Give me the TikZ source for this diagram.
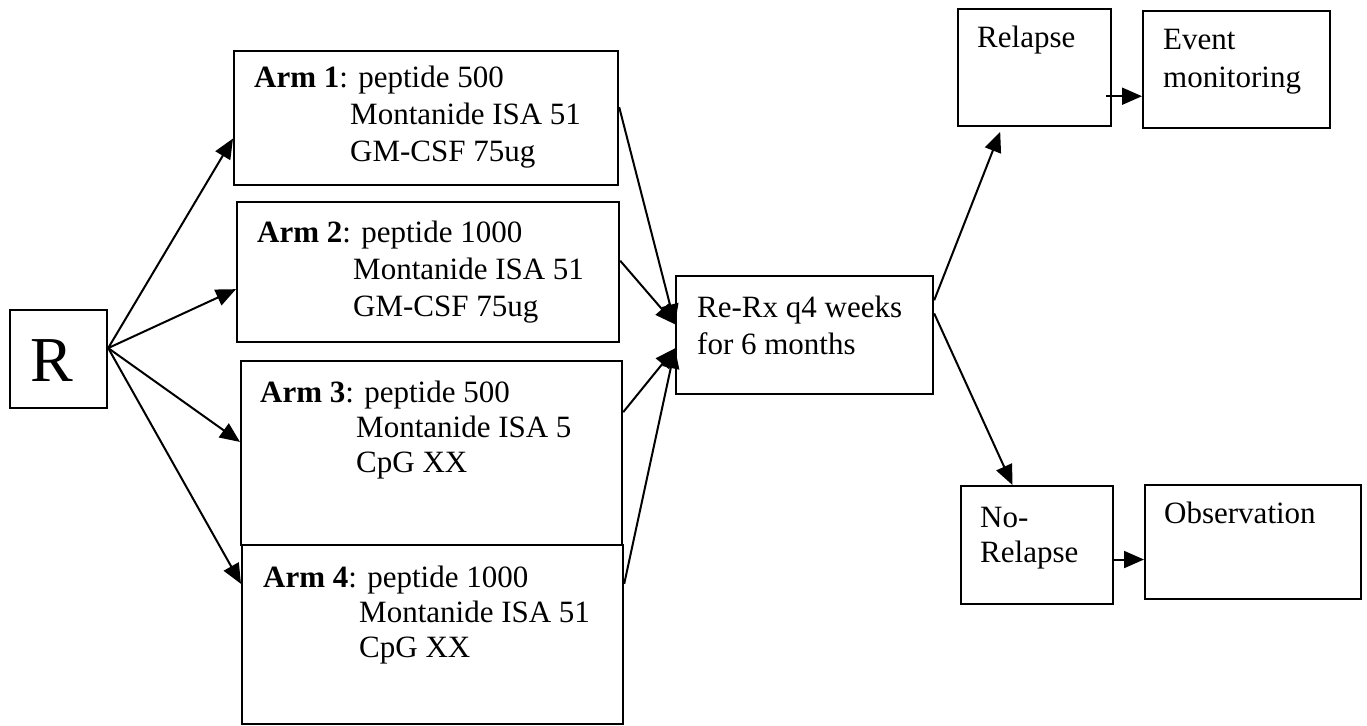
\documentclass[tikz,border=0pt]{standalone}
\usepackage{fontspec}
\setmainfont{Liberation Serif}
\usetikzlibrary{arrows.meta,calc}
\tikzset{
  box/.style={draw, line width=2.2pt, inner sep=0pt, anchor=north west},
  txt/.style={anchor=base west, inner sep=0pt, font=\fontsize{31}{37}\selectfont},
  tight/.style={font=\fontsize{31}{35}\selectfont},
  arr/.style={line width=2pt, -{Triangle[length=20pt,width=17pt]}}
}
\newcommand{\armtext}[4]{\begin{tabular}[t]{@{}l@{}}\textbf{Arm #1}: peptide #2\\\hspace*{96pt}#3\\\hspace*{96pt}#4\end{tabular}}
\begin{document}
\begin{tikzpicture}[x=1pt,y=-1pt]
\useasboundingbox (0,0) rectangle (1367,725);
\fill[white] (0,0) rectangle (1367,725);
% boxes
\node[box, minimum width=97pt, minimum height=98pt] (R) at (9,309) {};
\node[anchor=base, inner sep=0pt, font=\fontsize{64}{70}\selectfont] (Rt) at (52,381) {R};
\node[box, minimum width=384pt, minimum height=134pt] (a1) at (233,50) {};
\node[box, minimum width=382pt, minimum height=140pt] (a2) at (236,201) {};
\node[box, minimum width=381pt, minimum height=184pt] (a3) at (240,360) {};
\node[box, minimum width=381pt, minimum height=179pt] (a4) at (241,544) {};
\node[box, minimum width=257pt, minimum height=118pt] (rx) at (675,275) {};
\node[box, minimum width=153pt, minimum height=117pt] (rel) at (957,8) {};
\node[box, minimum width=187pt, minimum height=117pt] (ev) at (1142,10) {};
\node[box, minimum width=152pt, minimum height=118pt] (nr) at (960,485) {};
\node[box, minimum width=216pt, minimum height=114pt] (obs) at (1144,484) {};
% texts
\node[txt] (t1) at (254,87) {\armtext{1}{500}{Montanide ISA 51}{GM-CSF 75ug}};
\node[txt] (t2) at (257,242) {\armtext{2}{1000}{Montanide ISA 51}{GM-CSF 75ug}};
\node[txt, tight] (t3) at (260,402) {\armtext{3}{500}{Montanide ISA 5}{CpG XX}};
\node[txt, tight] (t4) at (263,587) {\armtext{4}{1000}{Montanide ISA 51}{CpG XX}};
\node[txt] (trx) at (697,317) {\begin{tabular}[t]{@{}l@{}}Re-Rx q4 weeks\\for 6 months\end{tabular}};
\node[txt] (trel) at (977,48) {Relapse};
\node[txt] (tev) at (1163,50) {\begin{tabular}[t]{@{}l@{}}Event\\monitoring\end{tabular}};
\node[txt, tight] (tnr) at (980,527) {\begin{tabular}[t]{@{}l@{}}No-\\Relapse\end{tabular}};
\node[txt] (tobs) at (1164,523) {Observation};
% connectors from R
\coordinate (r0) at ($(R.north east)!0.39!(R.south east)$);
\draw[arr] (r0) -- ($(a1.north west)!0.65!(a1.south west)$);
\draw[arr] (r0) -- ($(a2.north west)!0.62!(a2.south west)$);
\draw[arr] (r0) -- ($(a3.north west)!0.44!(a3.south west)$);
\draw[arr] (r0) -- ($(a4.north west)!0.22!(a4.south west)$);
% arms to Re-Rx
\draw[arr] ($(a1.north east)!0.42!(a1.south east)$) -- ($(rx.north west)!0.41!(rx.south west)$);
\draw[arr] ($(a2.north east)!0.42!(a2.south east)$) -- ($(rx.north west)!0.41!(rx.south west)$);
\draw[arr] ($(a3.north east)!0.28!(a3.south east)$) -- ($(rx.north west)!0.61!(rx.south west)$);
\draw[arr] ($(a4.north east)!0.22!(a4.south east)$) -- ($(rx.north west)!0.61!(rx.south west)$);
% Re-Rx to outcomes
\draw[arr, shorten >=5pt] ($(rx.north east)!0.21!(rx.south east)$) -- ($(rel.south west)!0.29!(rel.south east)$);
\draw[arr] ($(rx.north east)!0.32!(rx.south east)$) -- ($(nr.north west)!0.34!(nr.north east)$);
% outcomes to follow-up
\coordinate (e0) at ($(rel.north east)!0.74!(rel.south east)$);
\draw[arr, shorten <=-6pt] (e0) -- (e0 -| ev.west);
\coordinate (o0) at ($(nr.north east)!0.62!(nr.south east)$);
\draw[arr] (o0) -- (o0 -| obs.west);
\end{tikzpicture}
\end{document}
